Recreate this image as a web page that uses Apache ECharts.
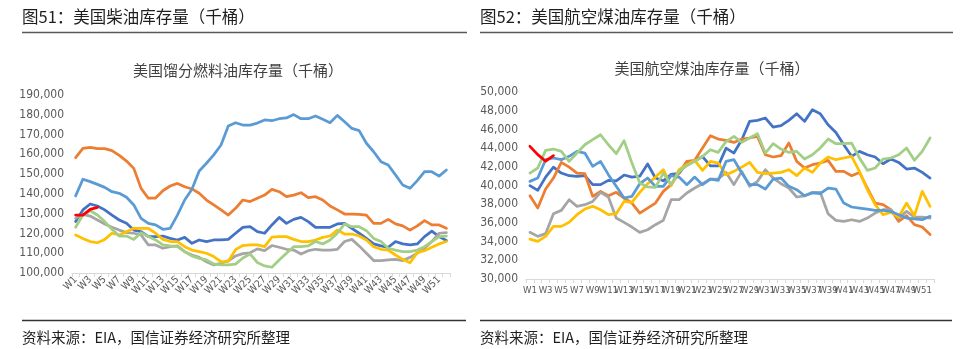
<!DOCTYPE html>
<html>
<head>
<meta charset="utf-8">
<script src="https://cdn.jsdelivr.net/npm/echarts@6/dist/echarts.min.js"></script>
<style>
  html, body { margin: 0; padding: 0; background: #ffffff; }
  #chart { width: 961px; height: 349px; }
</style>
</head>
<body>
<div id="chart"></div>
<script>
// Week categories shared by both panels
const weeks = ['W1','W2','W3','W4','W5','W6','W7','W8','W9','W10','W11','W12','W13','W14','W15','W16','W17','W18','W19','W20','W21','W22','W23','W24','W25','W26',
  'W27','W28','W29','W30','W31','W32','W33','W34','W35','W36','W37','W38','W39','W40','W41','W42','W43','W44','W45','W46','W47','W48','W49','W50','W51','W52'];

const seriesNames = ['系列1', '系列2', '系列3', '系列4', '系列5', '系列6', '系列7'];

// Distillate fuel oil stocks (thousand barrels)
const distS1 = [126000,131900,134900,133900,131900,129300,126800,125100,121700,120900,118400,118400,118700,117500,116700,118000,115000,116700,115900,116700,116700,117000,120100,123100,123400,120900,
  120100,124300,128100,125100,127100,128100,126000,123100,123100,123100,124800,125100,122600,120100,117500,114700,113700,113000,115900,114700,114200,114700,118400,121200,118400,116400];
const distS2 = [158300,163000,163500,162900,162900,161900,159500,156600,152900,142800,137800,137900,141600,144000,145300,143600,142500,140300,136900,134400,131900,129300,132700,136900,136100,137800,
  139400,142300,141100,138600,139400,140600,138100,138600,136900,133900,131900,129800,129800,129700,129300,125100,125100,127100,124800,123800,121700,123800,126500,124300,124300,122600];
const distS3 = [127600,129600,128800,126800,124800,123100,121700,120400,120100,119200,114200,114200,112500,113300,113700,110800,109100,107900,105700,104100,104900,106200,108600,109800,110200,112200,
  111300,113900,113000,112000,111600,109600,111300,112000,111600,111600,112000,115900,117000,113700,110000,106300,106300,106600,106900,106300,107900,110000,112500,115900,120100,120400];
const distS4 = [119200,117500,115900,115300,117000,120100,119200,120900,122600,122600,122600,120100,117000,115900,115900,113300,111600,110800,110000,108300,105700,105900,111800,113900,114200,114200,
  113300,118200,118400,118400,117000,115900,115900,116700,118000,118700,121700,119700,119700,118700,116700,113300,112000,111600,109100,106900,105200,110300,111300,113000,114700,115900];
const distS5 = [139000,147400,146200,144800,143300,141100,140300,138300,134400,127600,125100,124300,122100,122600,129300,136900,142300,151600,155500,159700,164700,174300,176000,174800,174800,175800,
  177400,177000,178000,178400,180100,178000,178000,179400,177700,176000,179700,176500,173100,172000,165600,161300,156300,154600,149600,144500,142800,146700,151200,151200,149000,152100];
const distS6 = [123100,129300,131500,129300,126000,122100,118700,118700,117000,120400,118400,116700,114200,113700,113300,110800,108600,107400,106600,104600,104100,104100,104500,107600,109600,105300,
  103600,102900,106600,110000,113300,113300,113700,115900,114700,116700,120100,124800,123400,123400,121400,117500,115900,112500,111600,110800,110800,111600,113300,115900,118400,118700];
const distS7 = [129300,129300,132200,133200];

// Kerosene-type jet fuel stocks (thousand barrels)
const jetS1 = [39980,39480,40900,41970,41330,41050,40980,41050,40090,40090,40550,40500,41120,40900,41000,42300,40800,40500,41200,41300,42400,42600,43100,42100,42100,44000,
  43470,44900,46860,46970,47220,46250,46400,46970,47680,46860,48110,47680,46500,45680,44360,43120,43650,43290,43050,42330,42830,42470,41760,41870,41400,40800];
const jetS2 = [38900,37600,39620,40800,42470,41970,41330,41260,38840,39370,38900,39270,38660,38120,37050,37590,38120,39370,40090,41330,42580,42690,44010,45330,44970,44830,
  44610,44970,45080,45250,43290,43050,43190,44540,42580,41870,42230,42400,42690,41510,41510,41050,41400,39730,38120,37950,37410,36160,36770,35810,35560,34750];
const jetS3 = [34990,34560,34850,36980,37340,38480,37770,37950,38300,39270,38770,36520,36060,35560,34990,35270,35810,36270,38480,38480,39200,39730,40190,40690,40690,41400,
  40090,41510,39910,40440,41690,40800,40190,39730,38770,38900,39270,39270,36980,36270,36160,36340,36160,36520,37050,37410,37410,36520,37230,36630,36630,36520];
const jetS4 = [34270,34030,34560,35630,35630,36060,36880,37480,37770,37410,36880,36980,38300,38200,39270,40190,40900,41690,39980,41690,42230,42690,41620,42580,42400,41160,
  41510,41970,42470,41400,41260,41330,41400,41690,41050,41870,41400,42400,43050,42760,42940,43120,41500,39550,37950,36880,37130,36630,38120,36770,39370,37770];
const jetS5 = [40440,40800,42760,42940,42760,43120,43650,43470,42050,42580,41160,39910,38660,38840,40190,40800,39910,39910,41050,40900,40090,40900,40090,40690,40550,42580,
  42760,41330,40090,40090,39620,40690,40800,39910,39550,38900,39200,39120,39730,39620,38120,37700,37590,37480,37340,37340,37230,36880,36520,36420,36340,36700];
const jetS6 = [41330,41870,43760,43900,43650,42580,43470,44360,44900,45430,44360,43400,44800,42400,40260,39840,39800,41330,40090,41510,42120,42580,43120,43830,43540,44700,
  45250,44610,45080,45540,43470,44470,43900,43540,43650,42830,43290,44010,44970,44470,44470,44540,42940,41620,41870,42830,42940,43290,44010,42690,43650,45080];
const jetS7 = [44190,43300,42600,43200];

const palette = ['#4472C4', '#ED7D31', '#A5A5A5', '#FFC000', '#5B9BD5', '#A3CE85', '#FF0000'];

const distData = [distS1, distS2, distS3, distS4, distS5, distS6, distS7];
const jetData = [jetS1, jetS2, jetS3, jetS4, jetS5, jetS6, jetS7];

const labelFont = "'Liberation Sans Narrow', 'DejaVu Sans Condensed', 'Liberation Sans', sans-serif";
const cjkFont = "'Noto Sans CJK SC', sans-serif";
const axisGray = '#595959';

// Every other week is labelled (W1, W3, ... W51)
function oddWeekLabel(value, index) {
  return index % 2 === 0 ? value : '';
}

function xAxisFor(gridIndex, rotate, size) {
  return {
    type: 'category',
    gridIndex: gridIndex,
    data: weeks,
    boundaryGap: true,
    axisLine: { show: true, lineStyle: { color: '#d9d9d9', width: 1 } },
    axisTick: { show: true, interval: 0, length: 4, lineStyle: { color: '#d9d9d9' } },
    axisLabel: {
      interval: 0,
      rotate: rotate,
      margin: rotate ? 5 : 7,
      color: axisGray,
      fontSize: size,
      fontFamily: labelFont,
      hideOverlap: false,
      showMinLabel: true,
      showMaxLabel: true,
      formatter: oddWeekLabel
    },
    splitLine: { show: false }
  };
}

function yAxisFor(gridIndex, min, max, interval) {
  return {
    type: 'value',
    gridIndex: gridIndex,
    min: min,
    max: max,
    interval: interval,
    axisLine: { show: false },
    axisTick: { show: false },
    splitLine: { show: false },
    axisLabel: {
      margin: 8,
      color: axisGray,
      fontSize: 12,
      fontFamily: labelFont,
      hideOverlap: false,
      showMinLabel: true,
      showMaxLabel: true,
      formatter: function (v) { return echarts.format.addCommas(v); }
    }
  };
}

function linesFor(dataSets, axisIndex) {
  return dataSets.map(function (d, i) {
    return {
      name: seriesNames[i],
      type: 'line',
      xAxisIndex: axisIndex,
      yAxisIndex: axisIndex,
      data: d,
      symbol: 'none',
      smooth: false,
      animation: false,
      lineStyle: { width: 2.75, color: palette[i], cap: 'round', join: 'round' },
      itemStyle: { color: palette[i] },
      z: 2 + i
    };
  });
}

function textEl(x, y, str, size, color, align) {
  return {
    type: 'text',
    x: x,
    y: y,
    style: {
      text: str,
      fontSize: size,
      fontFamily: cjkFont,
      fill: color,
      align: align || 'left',
      verticalAlign: 'middle'
    },
    silent: true
  };
}

function ruleEl(x1, x2, y, color, w) {
  return {
    type: 'line',
    shape: { x1: x1, y1: y, x2: x2, y2: y },
    style: { stroke: color, lineWidth: w },
    silent: true
  };
}

const chart = echarts.init(document.getElementById('chart'), null, { renderer: 'canvas' });

chart.setOption({
  backgroundColor: '#ffffff',
  animation: false,
  grid: [
    { left: 72, top: 95, width: 378, height: 178 },
    { left: 526, top: 92, width: 408, height: 187 }
  ],
  xAxis: [xAxisFor(0, 45, 10), xAxisFor(1, 0, 9.5)],
  yAxis: [yAxisFor(0, 100000, 190000, 10000), yAxisFor(1, 30000, 50000, 2000)],
  series: linesFor(distData, 0).concat(linesFor(jetData, 1)),
  graphic: [
    textEl(22, 17, '图51：美国柴油库存量（千桶）', 16.5, '#1f1f1f'),
    textEl(480, 17, '图52：美国航空煤油库存量（千桶）', 16.5, '#1f1f1f'),
    ruleEl(22, 467, 32.5, '#595959', 1.5),
    ruleEl(480, 953, 32.5, '#595959', 1.5),
    textEl(238, 70, '美国馏分燃料油库存量（千桶）', 15, '#404040', 'center'),
    textEl(712, 68, '美国航空煤油库存量（千桶）', 15, '#404040', 'center'),
    ruleEl(22, 466, 320.5, '#333333', 1.5),
    ruleEl(480, 952, 320.5, '#333333', 1.5),
    textEl(22, 337.5, '资料来源：EIA，国信证券经济研究所整理', 14.5, '#1f1f1f'),
    textEl(480, 337.5, '资料来源：EIA，国信证券经济研究所整理', 14.5, '#1f1f1f')
  ]
});
</script>
</body>
</html>
